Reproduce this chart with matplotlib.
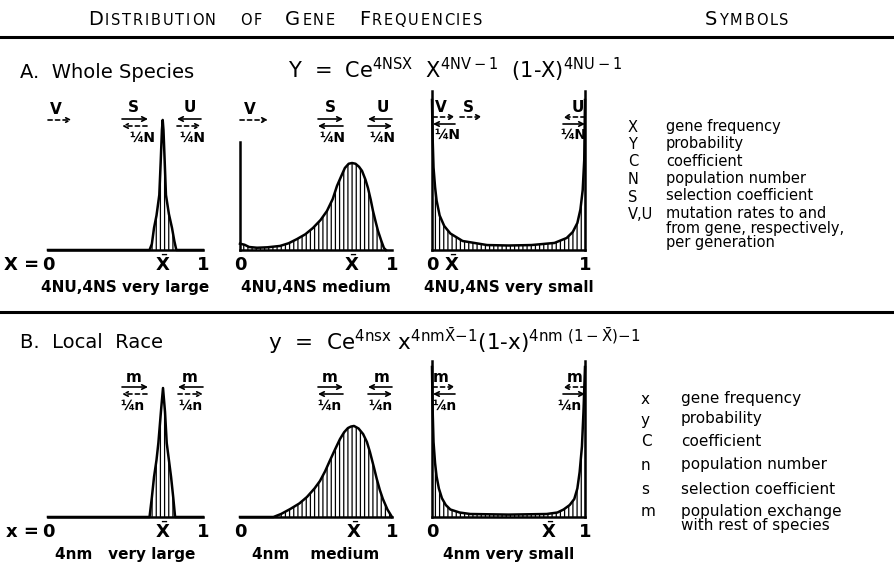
import matplotlib.pyplot as plt

# ------------------------------------------------------------
# CONFIG
# ------------------------------------------------------------
W, H = 895, 568
plt.rcParams["font.family"] = "DejaVu Sans"
plt.rcParams["mathtext.fontset"] = "dejavusans"
plt.rcParams["hatch.linewidth"] = 0.9

# ------------------------------------------------------------
# DATA (curves, x = gene frequency 0..1,
# y = relative probability, 1 = panel height)
# ------------------------------------------------------------
A1_X = [0.0, 0.655, 0.67, 0.684, 0.70, 0.718, 0.727, 0.735, 0.74, 0.745, 0.753, 0.761, 0.78, 0.80, 0.815, 0.828, 1.0]
A1_Y = [0, 0, 0.04, 0.147, 0.23, 0.367, 0.587, 0.8, 0.867, 0.8, 0.587, 0.367, 0.24, 0.147, 0.06, 0, 0]

A2_X = [0.0, 0.03, 0.06, 0.112, 0.18, 0.263, 0.32, 0.375, 0.43, 0.48, 0.53, 0.572, 0.61, 0.638, 0.665,
        0.69, 0.715, 0.737, 0.76, 0.783, 0.803, 0.825, 0.842, 0.86, 0.875, 0.892, 0.908, 0.93, 0.947, 0.96]
A2_Y = [0.042, 0.035, 0.02, 0.015, 0.018, 0.027, 0.045, 0.073, 0.105, 0.147, 0.2, 0.26, 0.34, 0.427, 0.49,
        0.547, 0.575, 0.58, 0.575, 0.555, 0.527, 0.47, 0.413, 0.335, 0.26, 0.19, 0.127, 0.06, 0.013, 0.0]

A3_X = [0.0, 0.004, 0.01, 0.02, 0.03, 0.05, 0.08, 0.12, 0.2, 0.36, 0.5, 0.65, 0.8, 0.88, 0.92, 0.95,
        0.97, 0.985, 0.995, 1.0]
A3_Y = [1.0, 0.75, 0.55, 0.42, 0.33, 0.23, 0.16, 0.11, 0.06, 0.033, 0.03, 0.033, 0.047, 0.08, 0.12, 0.18,
        0.27, 0.4, 0.6, 1.0]

B1_X = [0.0, 0.655, 0.67, 0.684, 0.70, 0.712, 0.73, 0.742, 0.755, 0.766, 0.78, 0.794, 0.808, 0.82, 1.0]
B1_Y = [0, 0, 0.13, 0.267, 0.38, 0.493, 0.72, 0.86, 0.7, 0.493, 0.38, 0.267, 0.13, 0, 0]

B2_X = [0.0, 0.22, 0.27, 0.33, 0.39, 0.44, 0.49, 0.526, 0.56, 0.59, 0.625, 0.658, 0.685, 0.71, 0.73,
        0.75, 0.78, 0.81, 0.835, 0.855, 0.88, 0.9, 0.92, 0.94, 0.97, 1.0]
B2_Y = [0, 0, 0.02, 0.053, 0.09, 0.133, 0.19, 0.24, 0.305, 0.373, 0.45, 0.52, 0.565, 0.593, 0.603,
        0.607, 0.59, 0.553, 0.5, 0.433, 0.335, 0.253, 0.18, 0.12, 0.05, 0.0]

B3_X = [0.0, 0.004, 0.01, 0.02, 0.03, 0.045, 0.065, 0.09, 0.12, 0.18, 0.25, 0.5, 0.75, 0.82, 0.86, 0.9,
        0.93, 0.95, 0.965, 0.98, 0.99, 1.0]
B3_Y = [1.0, 0.72, 0.5, 0.36, 0.27, 0.19, 0.125, 0.08, 0.05, 0.03, 0.02, 0.016, 0.02, 0.03, 0.05, 0.08,
        0.12, 0.19, 0.3, 0.47, 0.7, 1.0]

# position of the mean gene frequency in each panel
XBAR_A = [0.74, 0.737, 0.13]
XBAR_B = [0.742, 0.75, 0.76]

CAPTIONS_A = ["4NU,4NS very large", "4NU,4NS medium", "4NU,4NS very small"]
CAPTIONS_B = ["4nm   very large", "4nm    medium", "4nm very small"]

SYM_A = ["X", "Y", "C", "N", "S", "V,U"]
DESC_A = ["gene frequency", "probability", "coefficient", "population number",
          "selection coefficient", "mutation rates to and\nfrom gene, respectively,\nper generation"]
SYM_B = ["x", "y", "C", "n", "s", "m"]
DESC_B = ["gene frequency", "probability", "coefficient", "population number",
          "selection coefficient", "population exchange\nwith rest of species"]

# ------------------------------------------------------------
# FIGURE
# ------------------------------------------------------------
fig = plt.figure(figsize=(W / 100, H / 100), dpi=100)
ov = fig.add_axes([0, 0, 1, 1])
ov.set_xlim(0, W)
ov.set_ylim(H, 0)
ov.axis("off")
renderer = fig.canvas.get_renderer()


def smallcaps(x, y, words, big=14, small=10.5, gap=22):
    cur = x
    for w in words:
        for i, ch in enumerate(w):
            size = big if (i == 0 and len(w) > 2) else small
            t = ov.text(cur, y, ch, fontsize=size, va="baseline", ha="left")
            cur += t.get_window_extent(renderer).width + 1.8
        cur += gap


def arrow(x0, x1, y, dashed=False):
    ov.annotate("", xy=(x1, y), xytext=(x0, y),
                arrowprops=dict(arrowstyle="->", lw=1.2, color="black",
                                linestyle=(0, (2.5, 2)) if dashed else "-",
                                shrinkA=0, shrinkB=0, mutation_scale=8))


def panel(left, width, base, xs, ys, sides=(), side_top=1.0):
    ax = fig.add_axes([left / W, (H - base) / H, width / W, 165 / H])
    ax.set_xlim(0, 1)
    ax.set_ylim(0, 1.1)
    ax.patch.set_visible(False)
    ax.fill_between(xs, 0, ys, facecolor="none", edgecolor="black",
                    hatch="||||", linewidth=0)
    ax.plot(xs, ys, color="black", lw=1.8, clip_on=False)
    ax.set_xticks([])
    ax.set_yticks([])
    for s in ["top", "left", "right", "bottom"]:
        ax.spines[s].set_visible(s == "bottom" or s in sides)
        ax.spines[s].set_linewidth(1.8)
    for s in sides:
        ax.spines[s].set_bounds(0, side_top)
    return ax


def axis_labels(ax, xbar, caption, zero_prefix=None):
    kw = dict(fontsize=13, fontweight="bold", ha="center", va="center", clip_on=False)
    ax.text(0.0, -0.1, "0", **kw)
    ax.text(xbar, -0.1, r"$\bar{\mathbf{X}}$", **kw)
    ax.text(1.0, -0.1, "1", **kw)
    if zero_prefix:
        ax.text(-0.06, -0.1, zero_prefix, fontsize=13, fontweight="bold",
                ha="right", va="center", clip_on=False)
    ax.text(0.5, -0.25, caption, fontsize=11, fontweight="bold",
            ha="center", va="center", clip_on=False)


def symbol_rows(xs, xd, ys, syms, descs, size_s=10.5, size_d=10.5):
    for s, d, y in zip(syms, descs, ys):
        ov.text(xs, y, s, fontsize=size_s, ha="left", va="center")
        if "\n" in d:
            ov.text(xd, y - 8, d, fontsize=size_d, ha="left", va="top", linespacing=0.95)
        else:
            ov.text(xd, y - 1, d, fontsize=size_d, ha="left", va="center")


# header
smallcaps(88, 25, ["DISTRIBUTION", "OF", "GENE", "FREQUENCIES"])
smallcaps(705, 25, ["SYMBOLS"])
ov.axhline(37, color="black", lw=2.2)
ov.axhline(312, color="black", lw=2.2)

# ---------------- A. Whole species ----------------
ov.text(20, 72, "A.  Whole Species", fontsize=14, va="center")
ov.text(288, 70, r"Y  =  Ce$^{\mathrm{4NSX}}$  X$^{\mathrm{4NV-1}}$  (1-X)$^{\mathrm{4NU-1}}$",
        fontsize=15, va="center")

pa1 = panel(48, 155, 250, A1_X, A1_Y)
pa2 = panel(240, 152, 250, A2_X, A2_Y, sides=("left",), side_top=0.72)
pa3 = panel(432, 153, 250, A3_X, A3_Y, sides=("left", "right"), side_top=1.06)
axis_labels(pa1, XBAR_A[0], CAPTIONS_A[0], zero_prefix="X =")
axis_labels(pa2, XBAR_A[1], CAPTIONS_A[1])
axis_labels(pa3, XBAR_A[2], CAPTIONS_A[2])

lab = dict(fontsize=11, ha="center", va="center", fontweight="bold")
frac = dict(fontsize=10, ha="center", va="center", fontweight="bold")
# panel 1
ov.text(56, 110, "V", **lab); arrow(48, 72, 120, dashed=True)
ov.text(133, 108, "S", **lab); arrow(122, 148, 119); arrow(147, 122, 126, dashed=True)
ov.text(142, 138, "¼N", **frac)
ov.text(190, 108, "U", **lab); arrow(201, 177, 119); arrow(177, 201, 126, dashed=True)
ov.text(192, 138, "¼N", **frac)
# panel 2
ov.text(250, 110, "V", **lab); arrow(240, 268, 120, dashed=True)
ov.text(330, 108, "S", **lab); arrow(318, 343, 119); arrow(343, 318, 126)
ov.text(332, 138, "¼N", **frac)
ov.text(383, 108, "U", **lab); arrow(392, 368, 119); arrow(368, 392, 126)
ov.text(382, 138, "¼N", **frac)
# panel 3
ov.text(441, 108, "V", **lab); arrow(433, 455, 117, dashed=True)
ov.text(468, 108, "S", **lab); arrow(460, 482, 117, dashed=True)
arrow(455, 433, 124)
ov.text(447, 135, "¼N", **frac)
ov.text(578, 107, "U", **lab); arrow(585, 563, 117, dashed=True); arrow(563, 585, 124)
ov.text(573, 135, "¼N", **frac)

symbol_rows(628, 666, [127, 144.5, 162, 179.5, 197, 214.5], SYM_A, DESC_A)

# ---------------- B. Local race ----------------
ov.text(20, 343, "B.  Local  Race", fontsize=14, va="center")
ov.text(268, 341,
        r"y  =  Ce$^{\mathrm{4nsx}}$ x$^{\mathrm{4nm}\bar{\mathrm{X}}\mathrm{-1}}$"
        r"(1-x)$^{\mathrm{4nm}\ (1-\bar{\mathrm{X}})\mathrm{-1}}$",
        fontsize=15.5, va="center")

pb1 = panel(48, 155, 517, B1_X, B1_Y)
pb2 = panel(240, 152, 517, B2_X, B2_Y)
pb3 = panel(432, 153, 517, B3_X, B3_Y, sides=("left", "right"), side_top=1.04)
axis_labels(pb1, XBAR_B[0], CAPTIONS_B[0], zero_prefix="x =")
axis_labels(pb2, XBAR_B[1], CAPTIONS_B[1])
axis_labels(pb3, XBAR_B[2], CAPTIONS_B[2])

# panel 4
ov.text(134, 378, "m", **lab); arrow(122, 148, 387); arrow(147, 122, 394, dashed=True)
ov.text(133, 406, "¼n", **frac)
ov.text(190, 378, "m", **lab); arrow(203, 178, 387); arrow(178, 203, 394, dashed=True)
ov.text(191, 406, "¼n", **frac)
# panel 5
ov.text(330, 378, "m", **lab); arrow(318, 343, 387); arrow(343, 318, 394)
ov.text(330, 406, "¼n", **frac)
ov.text(382, 378, "m", **lab); arrow(392, 368, 387); arrow(368, 392, 394)
ov.text(381, 406, "¼n", **frac)
# panel 6
ov.text(441, 378, "m", **lab); arrow(433, 455, 387, dashed=True); arrow(455, 433, 394)
ov.text(445, 406, "¼n", **frac)
ov.text(575, 378, "m", **lab); arrow(585, 563, 387, dashed=True); arrow(563, 585, 394)
ov.text(570, 406, "¼n", **frac)

symbol_rows(641, 681, [400, 420, 442, 466, 490, 512], SYM_B, DESC_B, size_s=11, size_d=11)

fig.savefig("out.png", dpi=100)
